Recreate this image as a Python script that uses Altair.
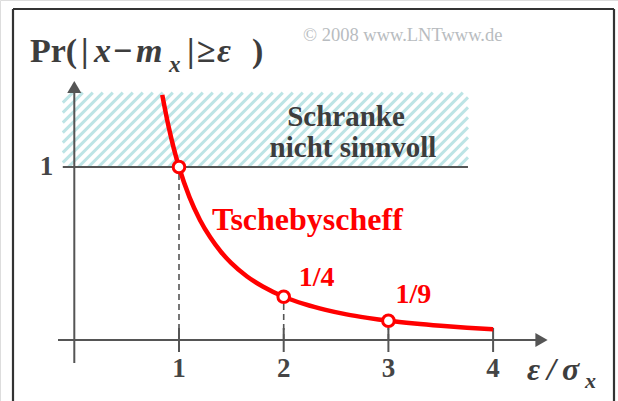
import altair as alt
import pandas as pd

# Chebyshev bound Pr(|x - m_x| >= eps) as a function of eps/sigma_x
eps_curve = [0.84, 0.9, 0.95, 1.0, 1.1, 1.2, 1.3, 1.4, 1.5, 1.65, 1.8, 2.0,
             2.2, 2.4, 2.6, 2.8, 3.0, 3.25, 3.5, 3.75, 4.0]
bound_curve = [1.417, 1.235, 1.108, 1.0, 0.826, 0.694, 0.592, 0.510, 0.444,
               0.367, 0.309, 0.25, 0.207, 0.174, 0.148, 0.128, 0.111, 0.095,
               0.082, 0.071, 0.0625]

# highlighted values of the bound
eps_marked = [1, 2, 3]
pr_marked = [1.0, 0.25, 0.1111]
marked_labels = ["", "1/4", "1/9"]

# axis ticks
x_ticks = [1, 2, 3, 4]
x_tick_labels = ["1", "2", "3", "4"]
y_ticks = [1]
y_tick_labels = ["1"]

# region where the bound exceeds 1 (not meaningful)
region_eps = [-0.11, 3.76]
region_pr = [1.0, 1.43]

# ---- canvas geometry ----
W, H = 618, 401
X0_PX, X_UNIT = 74.3, 104.7
Y0_PX, Y_UNIT = 340.0, 173.0

xs = alt.Scale(domain=[-X0_PX / X_UNIT, (W - X0_PX) / X_UNIT], nice=False, zero=False)
ys = alt.Scale(domain=[(Y0_PX - H) / Y_UNIT, Y0_PX / Y_UNIT], nice=False, zero=False)

SERIF = "Liberation Serif"
INK = "#3d3d3d"
AXIS = "#555555"
RED = "#ff0000"


def to_px(x):
    return X0_PX + x * X_UNIT


def to_py(y):
    return Y0_PX - y * Y_UNIT


def from_px(px):
    return (px - X0_PX) / X_UNIT


def from_py(py):
    return (Y0_PX - py) / Y_UNIT


def X(field):
    return alt.X(field, scale=xs, axis=None)


def Y(field):
    return alt.Y(field, scale=ys, axis=None)


def seg_layer(rows, color, width, dash=None):
    df = pd.DataFrame(rows, columns=["x", "y", "x2", "y2"])
    kw = dict(color=color, strokeWidth=width)
    if dash:
        kw["strokeDash"] = dash
    return alt.Chart(df).mark_rule(**kw).encode(
        x=X("x:Q"), y=Y("y:Q"), x2="x2:Q", y2="y2:Q",
    )


# hatch stripes "/" at 45 degrees on screen, clipped to the region
L, R = to_px(region_eps[0]), to_px(region_eps[1])
T, B = to_py(region_pr[1]), to_py(region_pr[0])
hatch_rows = []
c = L + T
while c < R + B:
    ylo, yhi = max(T, c - R), min(B, c - L)
    if yhi - ylo > 0.5:
        hatch_rows.append([from_px(c - ylo), from_py(ylo), from_px(c - yhi), from_py(yhi)])
    c += 10
hatch = seg_layer(hatch_rows, "#bde4e5", 3.0)

# axes
axes = seg_layer(
    [[from_px(58), 0, from_px(536), 0], [0, from_py(363), 0, from_py(92)]],
    AXIS, 2,
)
tick_half = 12 / Y_UNIT
ticks = seg_layer([[t, -tick_half, t, tick_half] for t in x_ticks], AXIS, 2)
one_line = seg_layer([[region_eps[0], 1.0, region_eps[1], 1.0]], AXIS, 2)
drops = seg_layer([[e, 0, e, p] for e, p in zip(eps_marked, pr_marked)], AXIS, 1.6, [6, 4])


def arrow(shape, x, y):
    df = pd.DataFrame({"x": [x], "y": [y]})
    return alt.Chart(df).mark_point(
        shape=shape, filled=True, size=200, color=AXIS, opacity=1
    ).encode(x=X("x:Q"), y=Y("y:Q"))


arrows = [arrow("triangle-right", from_px(541.5), 0), arrow("triangle-up", 0, from_py(87))]

curve_df = pd.DataFrame({"eps": eps_curve, "pr": bound_curve})
curve = alt.Chart(curve_df).mark_line(color=RED, strokeWidth=4.5, interpolate="monotone").encode(
    x=X("eps:Q"), y=Y("pr:Q"),
)

pts_df = pd.DataFrame({"eps": eps_marked, "pr": pr_marked, "lab": marked_labels})
points = alt.Chart(pts_df).mark_point(
    shape="circle", size=135, filled=True, fill="white", stroke=RED, strokeWidth=3, opacity=1
).encode(x=X("eps:Q"), y=Y("pr:Q"))

# value labels beside the marked points, each with its own offset
label_offsets = [(0, 0), (15, -11), (7, -18)]
point_labels = [
    alt.Chart(pts_df.iloc[[i]]).mark_text(
        font=SERIF, fontWeight="bold", fontSize=28, color=RED, align="left",
        baseline="alphabetic", dx=dx, dy=dy,
    ).encode(x=X("eps:Q"), y=Y("pr:Q"), text="lab:N")
    for i, (dx, dy) in enumerate(label_offsets) if marked_labels[i]
]

xt_df = pd.DataFrame({"v": x_ticks, "lab": x_tick_labels, "y0": [0] * len(x_ticks)})
x_labels = alt.Chart(xt_df).mark_text(
    font=SERIF, fontWeight="bold", fontSize=27, color="#454545", baseline="middle", dy=29
).encode(x=X("v:Q"), y=Y("y0:Q"), text="lab:N")

yt_df = pd.DataFrame({"v": y_ticks, "lab": y_tick_labels, "x0": [0] * len(y_ticks)})
y_labels = alt.Chart(yt_df).mark_text(
    font=SERIF, fontWeight="bold", fontSize=27, color="#454545", baseline="middle", align="right", dx=-21
).encode(x=X("x0:Q"), y=Y("v:Q"), text="lab:N")

# free text, positioned on screen
text_rows = [
    # y-axis caption: Pr( | x - m_x | >= eps )
    ("Pr(", 30, 62, 34, INK, False),
    ("|", 81, 62, 34, INK, False),
    ("x", 94, 62, 34, INK, True),
    ("\u2212", 113, 62, 34, INK, False),
    ("m", 136, 62, 34, INK, True),
    ("x", 169, 72, 23, INK, True),
    ("|", 187, 62, 34, INK, False),
    ("\u2265", 197, 62, 34, INK, False),
    ("\u03b5", 217, 62, 34, INK, True),
    (")", 252, 62, 34, INK, False),
    # x-axis caption eps / sigma_x
    ("\u03b5", 527, 380, 32, INK, True),
    ("/", 547, 380, 32, INK, True),
    ("\u03c3", 562, 380, 32, INK, True),
    ("x", 585, 388, 22, INK, True),
    # curve name
    ("Tschebyscheff", 212, 230, 32, RED, False),
]


def text_layer(rows, italic, bold=True, align="left"):
    df = pd.DataFrame(rows, columns=["t", "px", "py", "fs", "col"])
    kw = dict(font=SERIF, align=align, baseline="alphabetic")
    if bold:
        kw["fontWeight"] = "bold"
    if italic:
        kw["fontStyle"] = "italic"
    return alt.Chart(df).mark_text(**kw).encode(
        x=alt.X("px:Q", scale=None, axis=None),
        y=alt.Y("py:Q", scale=None, axis=None),
        size=alt.Size("fs:Q", scale=None, legend=None),
        color=alt.Color("col:N", scale=None, legend=None),
        text="t:N",
    )


upright = text_layer([r[:5] for r in text_rows if not r[5]], italic=False)
italic = text_layer([r[:5] for r in text_rows if r[5]], italic=True)
centered = text_layer(
    [("Schranke", 346, 126, 29, INK), ("nicht sinnvoll", 353, 157, 29, INK)],
    italic=False, align="center",
)
copyright_txt = text_layer(
    [("\u00a9 2008 www.LNTwww.de", 303, 41, 18.5, "#b8bcc0")], italic=False, bold=False
)

frame = seg_layer(
    [[from_px(13), from_py(9), from_px(614), from_py(9)],
     [from_px(13), from_py(9), from_px(13), from_py(420)],
     [from_px(614), from_py(9), from_px(614), from_py(420)]],
    "#333333", 2.2,
)

chart = alt.layer(
    hatch, one_line, drops, axes, ticks, *arrows, curve, points, *point_labels,
    x_labels, y_labels, frame, upright, italic, centered, copyright_txt,
).properties(
    width=W, height=H, padding=0, autosize=alt.AutoSizeParams(type="none"),
).configure_view(stroke=None).configure(background="white")

chart.save("out.html", embed_options={"renderer": "svg", "actions": False})
